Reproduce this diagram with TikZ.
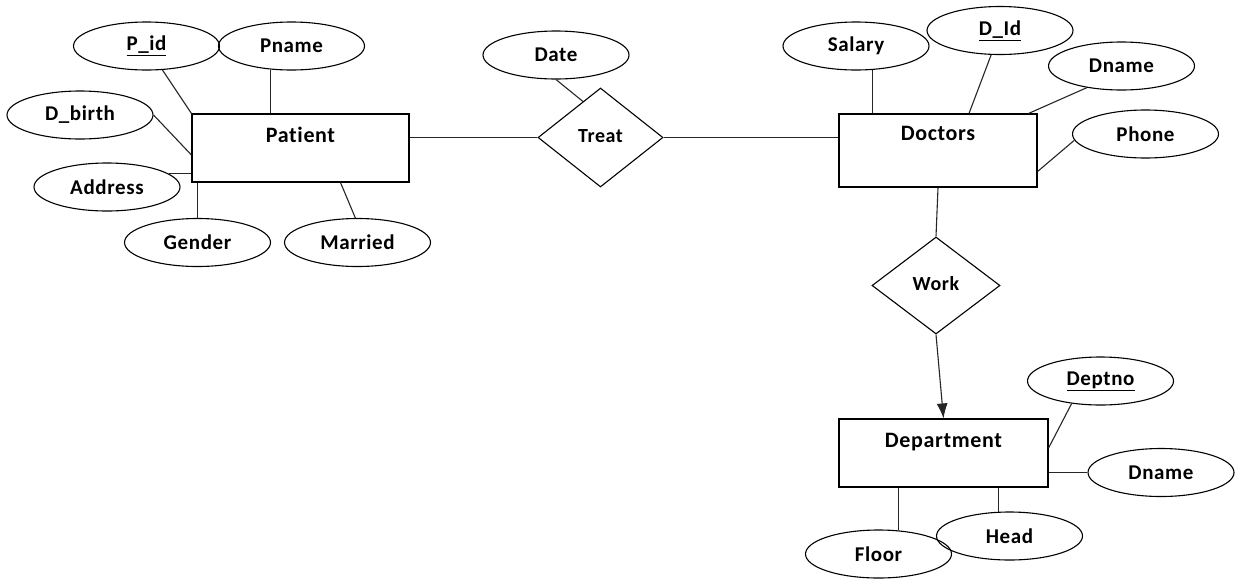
\documentclass[tikz,border=0pt]{standalone}
\usepackage{fontspec}
\setmainfont{Carlito}[Ligatures=NoCommon,LetterSpace=3]
\usetikzlibrary{shapes.geometric,arrows.meta}
\begin{document}
\begin{tikzpicture}[x=1pt,y=-1pt]
\tikzstyle{line}=[draw,line width=1.1pt,color=black!85]
\tikzstyle{arrow}=[line,-{Latex[length=15pt,width=11pt]}]
\tikzstyle{attr}=[draw,line width=1.1pt,ellipse,minimum width=146pt,minimum height=48pt,inner sep=0pt,font=\fontsize{21}{25}\selectfont\bfseries]
\tikzstyle{entity}=[draw,line width=1.1pt,rectangle,inner sep=0pt,text height=28pt,font=\fontsize{22}{26}\selectfont\bfseries]
\tikzstyle{rel}=[draw,line width=1.1pt,diamond,inner sep=0pt,text height=14pt,text depth=5pt,font=\fontsize{20}{24}\selectfont\bfseries]
\useasboundingbox[fill=white](0,0)rectangle(1238,579);
\node[entity,minimum width=217pt,text depth=40pt](patient)at(300.5,148){Patient};
\node[entity,minimum width=198pt,text height=26pt,text depth=47pt](doctors)at(938,150.5){Doctors};
\node[entity,minimum width=209pt,text depth=40pt](dept)at(943.5,453){Department};
\node[rel,minimum width=125pt,minimum height=99pt](treat)at(600.5,137.5){Treat};
\node[rel,minimum width=128pt,minimum height=97pt](work)at(936,285.5){Work};
\node[attr](pid)at(146.5,46){\underline{P\_id}};
\node[attr](pname)at(291.5,46){Pname};
\node[attr](dbirth)at(80,115){D\_birth};
\node[attr](address)at(107,187){Address};
\node[attr](gender)at(197.5,242.5){Gender};
\node[attr](married)at(357.5,242.5){Married};
\node[attr](date)at(556,55){Date};
\node[attr](salary)at(856,46){Salary};
\node[attr](did)at(1000,30.5){\underline{D\_Id}};
\node[attr](dname)at(1121.5,66){Dname};
\node[attr](phone)at(1145.5,134){Phone};
\node[attr](deptno)at(1100.5,381){\underline{Deptno}};
\node[attr](dname2)at(1161,472.5){Dname};
\node[attr](floor)at(878.5,554){Floor};
\node[attr](head)at(1009.5,536){Head};
\path[line](pid)--(patient.north west);
\path[line](pname.228)--(pname.228|-patient.north);
\path[line](dbirth.east)--([yshift=-7pt]patient.west);
\path[line](address.12)--(address.12-|patient.west);
\path[line](gender.north)--(gender.north|-patient.south);
\path[line](married.95)--([xshift=40pt]patient.south);
\path[line](treat.west)--(treat.west-|patient.east);
\path[line](treat.east)--(treat.east-|doctors.west);
\path[line](date.south)--(treat.116);
\path[line](salary.304)--(salary.304|-doctors.north);
\path[line](did.250)--([xshift=31pt]doctors.north);
\path[line](dname.212)--([xshift=-9pt]doctors.north east);
\path[line](phone.185)--([yshift=-21pt]doctors.east);
\path[line](doctors.south)--(work.north);
\path[arrow](work.south)--(dept.north);
\path[line](deptno.218)--([yshift=5pt]dept.east);
\path[line](dname2.west)--(dname2.west-|dept.east);
\path[line](head.114)--(head.114|-dept.south);
\path[line](floor.50)--(floor.50|-dept.south);
\end{tikzpicture}
\end{document}
